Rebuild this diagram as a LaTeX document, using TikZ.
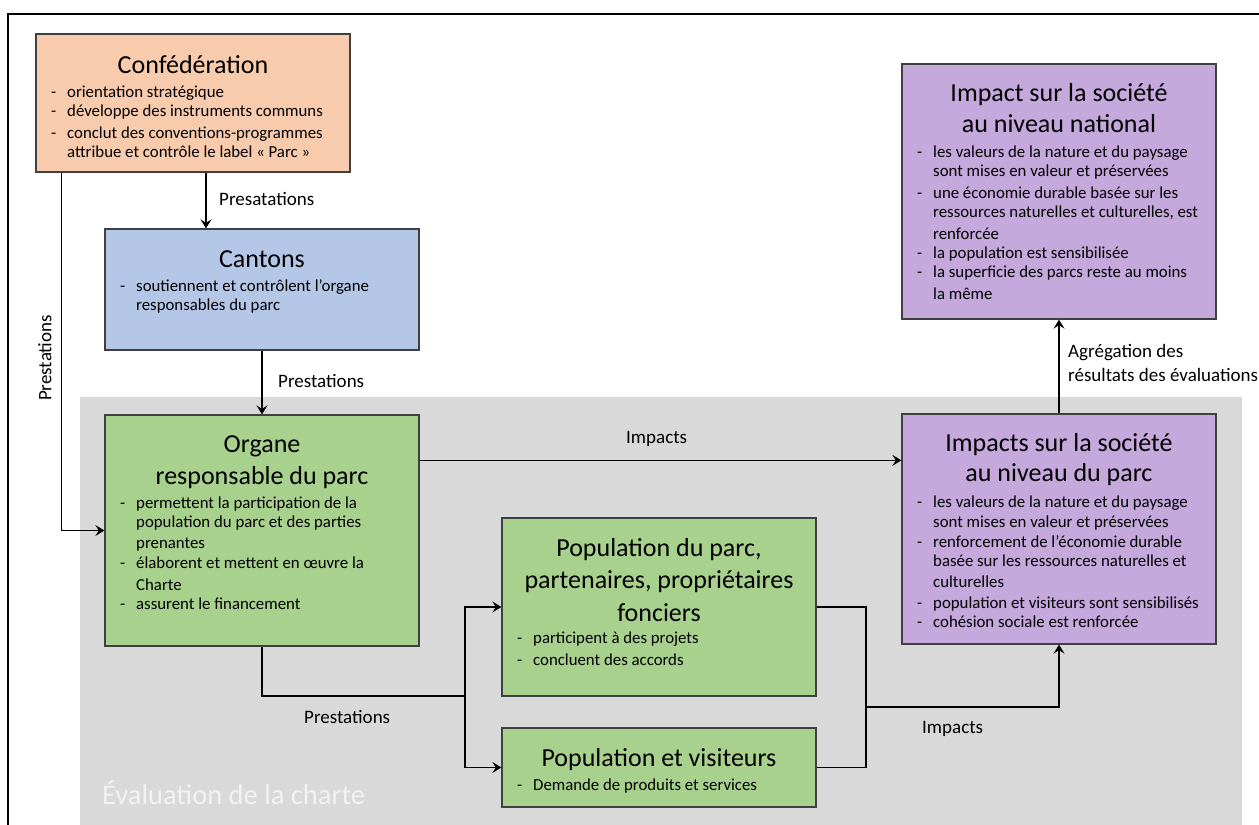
\documentclass[tikz,border=0pt]{standalone}
\usepackage{fontspec}
\setmainfont{Carlito}
\usepackage{tikz}
\usetikzlibrary{arrows.meta}
\definecolor{conffill}{HTML}{F8CBAD}
\definecolor{cantfill}{HTML}{B4C7E7}
\definecolor{parkfill}{HTML}{A9D18E}
\definecolor{impfill}{HTML}{C5A8DC}
\definecolor{evalgrey}{HTML}{D9D9D9}
\definecolor{boxline}{HTML}{404040}
\newcommand{\tiret}{\llap{-\hspace{10.9pt}}}
\tikzset{
  box/.style={rectangle, draw=boxline, line width=1.3pt, inner sep=0pt,
    minimum width=314pt},
  ttl/.style={anchor=base, inner sep=0pt, font=\fontsize{26}{32}\selectfont},
  itm/.style={anchor=base west, inner sep=0pt, font=\fontsize{16.8}{20}\selectfont},
  lbl/.style={anchor=base west, inner sep=0pt, font=\fontsize{19}{23}\selectfont},
  arr/.style={-{Stealth[length=9pt,width=11pt,inset=3.5pt]}, line width=1.2pt},
  con/.style={line width=1.2pt}
}

\begin{document}
\begin{tikzpicture}[x=1pt,y=-1pt]
			\useasboundingbox (0,0) rectangle (1259,825);
			\fill[evalgrey] (80,397) rectangle (1242,825);
			\draw[line width=2pt] (8,825) -- (8,14) -- (1259,14);
			\node[anchor=base west, inner sep=0pt, text=white!95!black,
			  font=\fontsize{28.5}{34}\selectfont] (evaltxt) at (102,804) {Évaluation de la charte};

			% boxes
			\node[box, fill=conffill, minimum height=138pt] (conf) at (193,103) {};
			\node[box, fill=cantfill, minimum height=121pt] (cantons) at (262,289.5) {};
			\node[box, fill=parkfill, minimum height=231pt] (organe) at (262,530.5) {};
			\node[box, fill=parkfill, minimum height=178pt] (poppark) at (659,607) {};
			\node[box, fill=parkfill, minimum height=79pt] (popvis) at (659,767.5) {};
			\node[box, fill=impfill, minimum height=230pt] (parc) at (1059,529) {};
			\node[box, fill=impfill, minimum height=255pt] (national) at (1059,191.5) {};

			% Confederation
			\node[ttl] (conft) at (193,73) {Confédération};
			\node[itm] (conf1) at (67,97) {\tiret orientation stratégique};
			\node[itm] (conf2) at (67,116) {\tiret développe des instruments communs};
			\node[itm] (conf3) at (67,138) {\tiret conclut des conventions-programmes};
			\node[itm] (conf4) at (67,157) {attribue et contrôle le label « Parc »};

			% Cantons
			\node[ttl] (cantt) at (262,267) {Cantons};
			\node[itm] (cant1) at (136,291) {\tiret soutiennent et contrôlent l’organe};
			\node[itm] (cant2) at (136,310) {responsables du parc};

			% Organe
			\node[ttl] (orgt1) at (262,452) {Organe};
			\node[ttl] (orgt2) at (262,484) {responsable du parc};
			\node[itm] (org1) at (136,508) {\tiret permettent la participation de la};
			\node[itm] (org2) at (136,527) {population du parc et des parties};
			\node[itm] (org3) at (136,548) {prenantes};
			\node[itm] (org4) at (136,568) {\tiret élaborent et mettent en œuvre la};
			\node[itm] (org5) at (136,590) {Charte};
			\node[itm] (org6) at (136,609) {\tiret assurent le financement};

			% Population du parc
			\node[ttl] (ppt1) at (659,556) {Population du parc,};
			\node[ttl] (ppt2) at (659,588) {partenaires, propriétaires};
			\node[ttl] (ppt3) at (659,621) {fonciers};
			\node[itm] (pp1) at (533,643) {\tiret participent à des projets};
			\node[itm] (pp2) at (533,665) {\tiret concluent des accords};

			% Population et visiteurs
			\node[ttl] (pvt) at (659,766) {Population et visiteurs};
			\node[itm] (pv1) at (533,790) {\tiret Demande de produits et services};

			% Impacts parc
			\node[ttl] (parct1) at (1059,451) {Impacts sur la société};
			\node[ttl] (parct2) at (1059,481) {au niveau du parc};
			\node[itm] (parc1) at (933,507) {\tiret les valeurs de la nature et du paysage};
			\node[itm] (parc2) at (933,527) {sont mises en valeur et préservées};
			\node[itm] (parc3) at (933,547) {\tiret renforcement de l'économie durable};
			\node[itm] (parc4) at (933,566) {basée sur les ressources naturelles et};
			\node[itm] (parc5) at (933,587) {culturelles};
			\node[itm] (parc6) at (933,608) {\tiret population et visiteurs sont sensibilisés};
			\node[itm] (parc7) at (933,627) {\tiret cohésion sociale est renforcée};

			% Impact national
			\node[ttl] (natt1) at (1059,101) {Impact sur la société};
			\node[ttl] (natt2) at (1059,132) {au niveau national};
			\node[itm] (nat1) at (933,157) {\tiret les valeurs de la nature et du paysage};
			\node[itm] (nat2) at (933,176) {sont mises en valeur et préservées};
			\node[itm] (nat3) at (933,198) {\tiret une économie durable basée sur les};
			\node[itm] (nat4) at (933,217) {ressources naturelles et culturelles, est};
			\node[itm] (nat5) at (933,239) {renforcée};
			\node[itm] (nat6) at (933,258) {\tiret la population est sensibilisée};
			\node[itm] (nat7) at (933,277) {\tiret la superficie des parcs reste au moins};
			\node[itm] (nat8) at (933,299) {la même};

			% connectors
			\draw[arr, line width=2pt] ([xshift=13pt]conf.south) coordinate (presa) -- (presa |- cantons.north);
			\draw[arr] ([xshift=26pt]conf.south west) |- (organe.west);
			\draw[arr] (cantons.south) -- (organe.north);
			\draw[arr] ([yshift=-46pt]organe.north east) coordinate (imp) -- (imp -| parc.west);
			\draw[arr] (parc.north) -- (national.south);
			\coordinate (split) at (465,696);
			\draw[con] (organe.south) |- (split);
			\draw[arr] (split) |- (poppark.west);
			\draw[arr] (split) |- (popvis.west);
			\coordinate (merge) at (866,707);
			\draw[con] (poppark.east) -| (merge);
			\draw[con] (popvis.east) -| (merge);
			\draw[arr] (merge) -| (parc.south);

			% labels
			\node[lbl] (l1) at (219,205) {Presatations};
			\node[lbl] (l2) at (278,387) {Prestations};
			\node[lbl, anchor=center, rotate=90] (l3) at (45,358) {Prestations};
			\node[lbl] (l4) at (626,443) {Impacts};
			\node[lbl] (l5) at (304,723) {Prestations};
			\node[lbl] (l6) at (922,733) {Impacts};
			\node[lbl] (l7) at (1068,357) {Agrégation des};
			\node[lbl] (l8) at (1068,381) {résultats des évaluations};
		\end{tikzpicture}
\end{document}
